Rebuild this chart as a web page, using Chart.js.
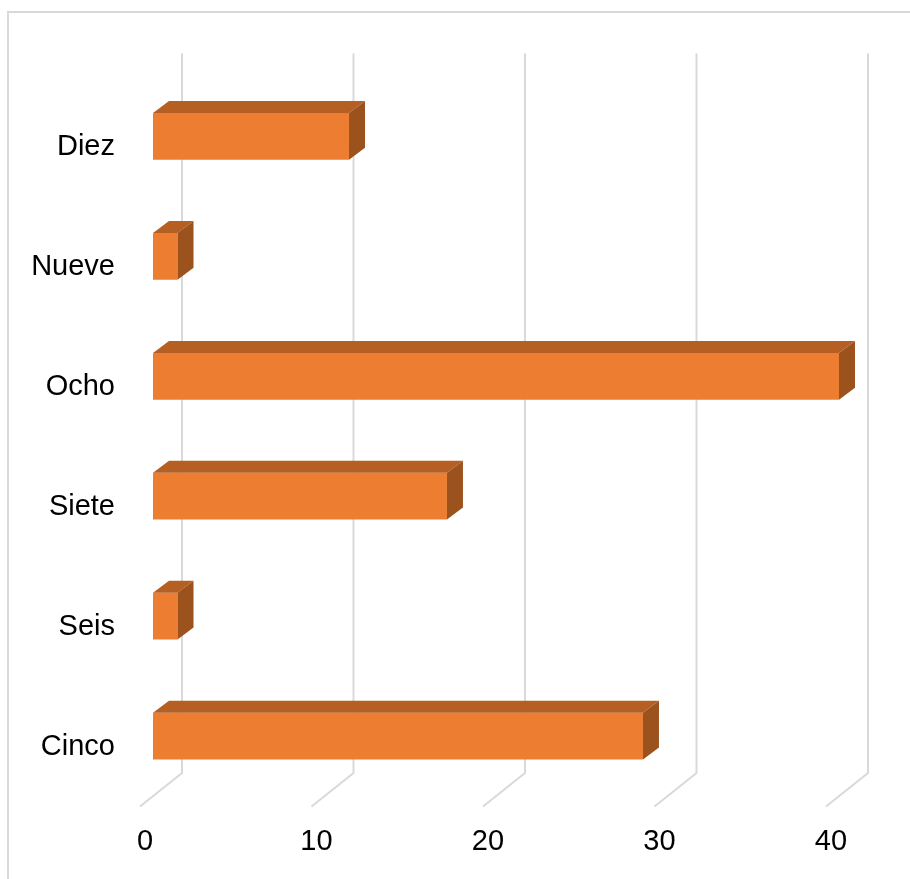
<!DOCTYPE html>
<html>
<head>
<meta charset="utf-8">
<script src="https://cdn.jsdelivr.net/npm/chart.js@4.4.1/dist/chart.umd.min.js"></script>
<style>
  html, body { margin: 0; padding: 0; background: #fff; }
  #wrap { width: 910px; height: 879px; position: relative; }
</style>
</head>
<body>
<div id="wrap"><canvas id="barChart"></canvas></div>
<script>
// categories bottom to top, as in the sheet
const categories = ["Cinco", "Seis", "Siete", "Ocho", "Nueve", "Diez"];
// percentage of 70 answers
const percentValues = [28.57, 1.43, 17.14, 40, 1.43, 11.43];
const tickValues = [0, 10, 20, 30, 40];

// fake 3d: depth of the bar and of the floor / back wall
const barDepth = { dx: 16, dy: 12 };
const backWall = { dx: 29, dy: -23 };
const frontEdge = { dx: -13, dy: 10.5 };

const frame3d = {
  id: "frame3d",
  beforeDraw(chart) {
    const c = chart.ctx;
    c.save();
    c.strokeStyle = "#d9d9d9";
    c.lineWidth = 2;
    c.beginPath();
    c.moveTo(8, 879);
    c.lineTo(8, 12);
    c.lineTo(910, 12);
    c.stroke();
    c.restore();
  },
  beforeDatasetsDraw(chart) {
    const c = chart.ctx;
    const xs = chart.scales.x;
    const area = chart.chartArea;
    c.save();
    c.strokeStyle = "#d9d9d9";
    c.lineWidth = 2;
    tickValues.forEach(v => {
      const px = xs.getPixelForValue(v);
      c.beginPath();
      c.moveTo(px + backWall.dx, area.top + backWall.dy);
      c.lineTo(px + backWall.dx, area.bottom + backWall.dy);
      c.lineTo(px + frontEdge.dx, area.bottom + frontEdge.dy);
      c.stroke();
    });
    c.restore();
  },
  afterDatasetsDraw(chart) {
    const c = chart.ctx;
    const meta = chart.getDatasetMeta(0);
    c.save();
    meta.data.forEach(bar => {
      const p = bar.getProps(["x", "y", "base", "height"], true);
      const x0 = p.base, x1 = p.x;
      const yT = p.y - p.height / 2, yB = p.y + p.height / 2;
      const { dx, dy } = barDepth;
      // top face
      c.fillStyle = "#b65f22";
      c.beginPath();
      c.moveTo(x0, yT);
      c.lineTo(x1, yT);
      c.lineTo(x1 + dx, yT - dy);
      c.lineTo(x0 + dx, yT - dy);
      c.closePath();
      c.fill();
      // side face
      c.fillStyle = "#9c521d";
      c.beginPath();
      c.moveTo(x1, yT);
      c.lineTo(x1 + dx, yT - dy);
      c.lineTo(x1 + dx, yB - dy);
      c.lineTo(x1, yB);
      c.closePath();
      c.fill();
    });
    c.restore();
  }
};

new Chart(document.getElementById("barChart"), {
  type: "bar",
  data: {
    labels: categories,
    datasets: [{
      data: percentValues,
      backgroundColor: "#ed7d31",
      borderWidth: 0,
      categoryPercentage: 1,
      barPercentage: 0.39
    }]
  },
  options: {
    indexAxis: "y",
    responsive: true,
    maintainAspectRatio: false,
    animation: false,
    layout: { padding: { left: 0, top: 76.5, right: 71, bottom: 0 } },
    plugins: {
      legend: { display: false },
      tooltip: { enabled: false }
    },
    scales: {
      x: {
        min: 0,
        max: 40,
        grid: { display: false, drawTicks: false },
        border: { display: false },
        ticks: {
          stepSize: 10,
          labelOffset: -8,
          padding: 29,
          color: "#000",
          font: { family: "Liberation Sans", size: 29 }
        },
        afterFit(scale) { scale.height = 83; }
      },
      y: {
        reverse: true,
        grid: { display: false, drawTicks: false },
        border: { display: false },
        ticks: {
          labelOffset: 11,
          padding: 38,
          color: "#000",
          font: { family: "Liberation Sans", size: 29 }
        },
        afterFit(scale) { scale.width = 153; }
      }
    }
  },
  plugins: [frame3d]
});
</script>
</body>
</html>
